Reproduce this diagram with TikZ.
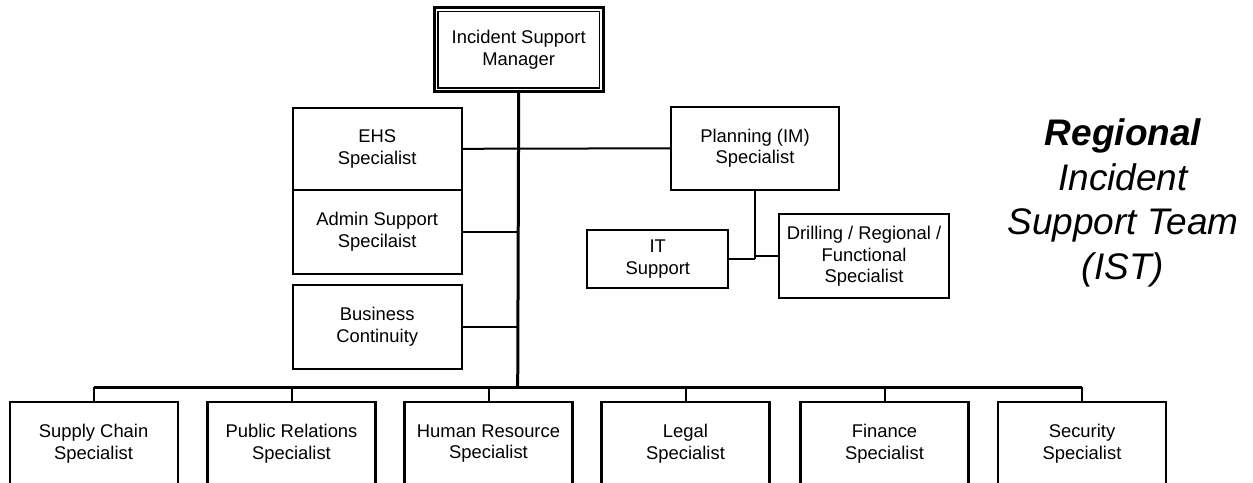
\documentclass[tikz,border=0pt]{standalone}
\usepackage{fontspec}
\setmainfont{Liberation Sans}
\usetikzlibrary{calc}
\tikzset{
  box/.style={draw, line width=2.1pt, rectangle, inner sep=0pt, outer sep=0pt, align=center,
    minimum width=169pt, minimum height=84pt, font=\fontsize{18.4}{21.7}\selectfont},
  conn/.style={line width=2pt},
  trunk/.style={line width=3pt},
  title/.style={align=center, font=\fontsize{37}{44.5}\selectfont\itshape}
}
\begin{document}
\begin{tikzpicture}[x=1pt, y=-1pt]
\clip (0,0) rectangle (1253,482);
\fill[white] (0,0) rectangle (1253,482);
% manager
\node[box, line width=3.2pt, minimum width=169pt, minimum height=84.4pt] (mgr) at (518.7,49.5) {\raisebox{-2pt}{\parbox{160pt}{\centering Incident Support\\Manager}}};
\draw[line width=1.8pt] ($(mgr.north west)+(3.8,4.2)$) rectangle ($(mgr.south east)+(-3.8,-4)$);
% left column
\node[box, minimum height=82.3pt] (ehs) at (377.2,148.8) {EHS\\Specialist};
\node[box] (adm) at (377.2,232) {Admin Support\\Specilaist};
\node[box] (bc) at (377.2,327) {Business\\Continuity};
% right group
\node[box, minimum width=168pt, minimum height=83.3pt] (plan) at (755,148.3) {Planning (IM)\\Specialist};
\node[box, minimum width=141pt, minimum height=57.7pt] (it) at (657.8,258.8) {IT\\Support};
\node[box, minimum width=170pt] (drl) at (864,256.3) {Drilling / Regional /\\Functional\\Specialist};
% bottom row
\node[box, minimum width=168pt, minimum height=83pt] (b1) at (93.6,443.5) {Supply Chain\\Specialist};
\node[box, minimum width=168pt, minimum height=83pt] (b2) at (291.5,443.5) {Public Relations\\Specialist};
\node[box, minimum width=168pt, minimum height=83pt] (b3) at (488.5,443.5) {Human Resource\\Specialist};
\node[box, minimum width=168pt, minimum height=83pt] (b4) at (685.5,443.5) {Legal\\Specialist};
\node[box, minimum width=168pt, minimum height=83pt] (b5) at (884.5,443.5) {Finance\\Specialist};
\node[box, minimum width=168pt, minimum height=83pt] (b6) at (1082,443.5) {Security\\Specialist};
% title
\node[title] (ttl) at (1123,203) {\textbf{Regional}\\Incident\\Support Team\\(IST)};
% connectors
\coordinate (bus) at (517.7,387);
\draw[trunk] (mgr.south) -- (bus);
\draw[conn] (ehs.east) -- (plan.west);
\draw[conn] (adm.east) -- (adm.east -| bus);
\draw[conn] (bc.east) -- (bc.east -| bus);
\draw[trunk] (b1.north |- bus) -- (b6.north |- bus);
\foreach \b in {b1,b2,b3,b4,b5,b6} {\draw[conn] (\b.north) -- (\b.north |- bus);}
\coordinate (pj) at (plan.south |- it.east);
\draw[conn] (plan.south) -- (pj);
\draw[conn] (it.east) -- (pj);
\draw[conn] (drl.west) -- (drl.west -| pj);
\end{tikzpicture}
\end{document}
